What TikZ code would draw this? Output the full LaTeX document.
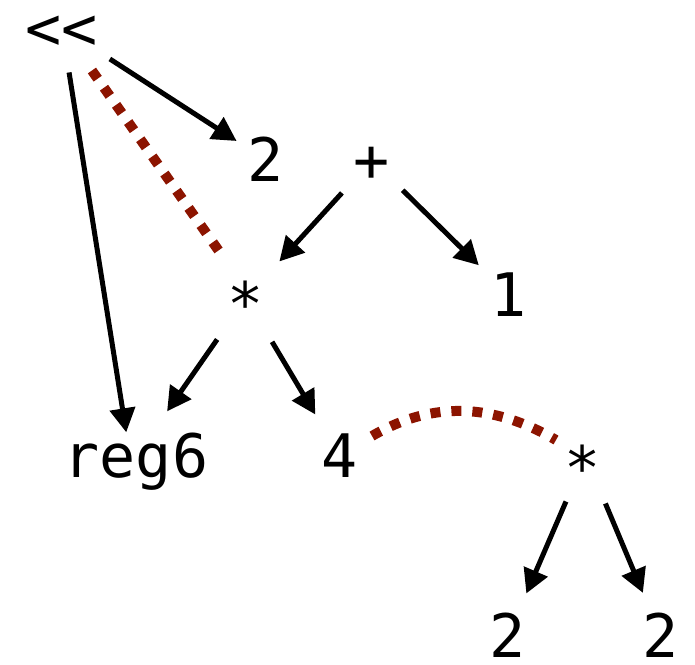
\documentclass[tikz,border=0pt]{standalone}
\usepackage{fontspec}
\setmonofont{DejaVu Sans Mono}
\usetikzlibrary{arrows.meta,calc}
\definecolor{dotred}{RGB}{140,20,0}
\tikzset{
  lbl/.style={inner sep=0pt, outer sep=0pt, text height=43.7pt, text depth=0pt,
    font=\ttfamily\fontsize{60}{72}\selectfont},
  arr/.style={line width=5pt, -{Triangle[length=24pt,width=25pt]}},
  reddot/.style={draw=dotred, line width=10pt, dash pattern=on 10pt off 11pt}
}
\begin{document}
\begin{tikzpicture}[x=1pt,y=-1pt]
\useasboundingbox (0,0) rectangle (695,664);
\node[lbl] (lt) at (62,28) {<{}<};
\node[lbl] (two1) at (266,160) {2};
\node[lbl] (plus) at (372,160) {+};
\node[lbl] (star1) at (246,304) {*};
\node[lbl] (one) at (509,295) {1};
\node[lbl] (reg6) at (136,456) {reg6};
\node[lbl] (four) at (340,456) {4};
\node[lbl] (star2) at (583,468) {*};
\node[lbl] (two2) at (508,636) {2};
\node[lbl] (two3) at (661,636) {2};
\coordinate (s1) at ($(star1.center)+(0,-6)$);
\coordinate (s1r) at ($(star1.center)+(6,-6)$);
\coordinate (s2) at ($(star2.center)+(0,-6)$);
\coordinate (s2r) at ($(star2.center)+(5,-6)$);
\coordinate (reg6l) at ($(reg6.center)+(-6,0)$);
\coordinate (arcA) at ($(four.center)+(32,-20)$);
\coordinate (arcB) at ($(s2)+(-27,-22)$);
\draw[arr, shorten <=57pt, shorten >=35pt] (lt.center) -- (two1.center);
\draw[arr, shorten <=45pt, shorten >=24pt] (lt.center) -- (reg6l);
\draw[reddot, shorten <=52pt, shorten >=54pt] (lt.center) -- (s1r);
\draw[arr, shorten <=44.6pt, shorten >=49.5pt] (plus.center) -- (s1);
\draw[arr, shorten <=43pt, shorten >=42.4pt] (plus.center) -- (one.center);
\draw[arr, shorten <=50.5pt, shorten >=54.4pt] (s1) -- (reg6.center);
\draw[arr, shorten <=51pt, shorten >=48.3pt] (s1) -- (four.center);
\draw[reddot] (arcA) .. controls +(62,-36) and +(-62,-36) .. (arcB);
\draw[arr, shorten <=43pt, shorten >=46.3pt] (s2) -- (two2.center);
\draw[arr, shorten <=45pt, shorten >=46.8pt] (s2r) -- (two3.center);
\end{tikzpicture}
\end{document}
